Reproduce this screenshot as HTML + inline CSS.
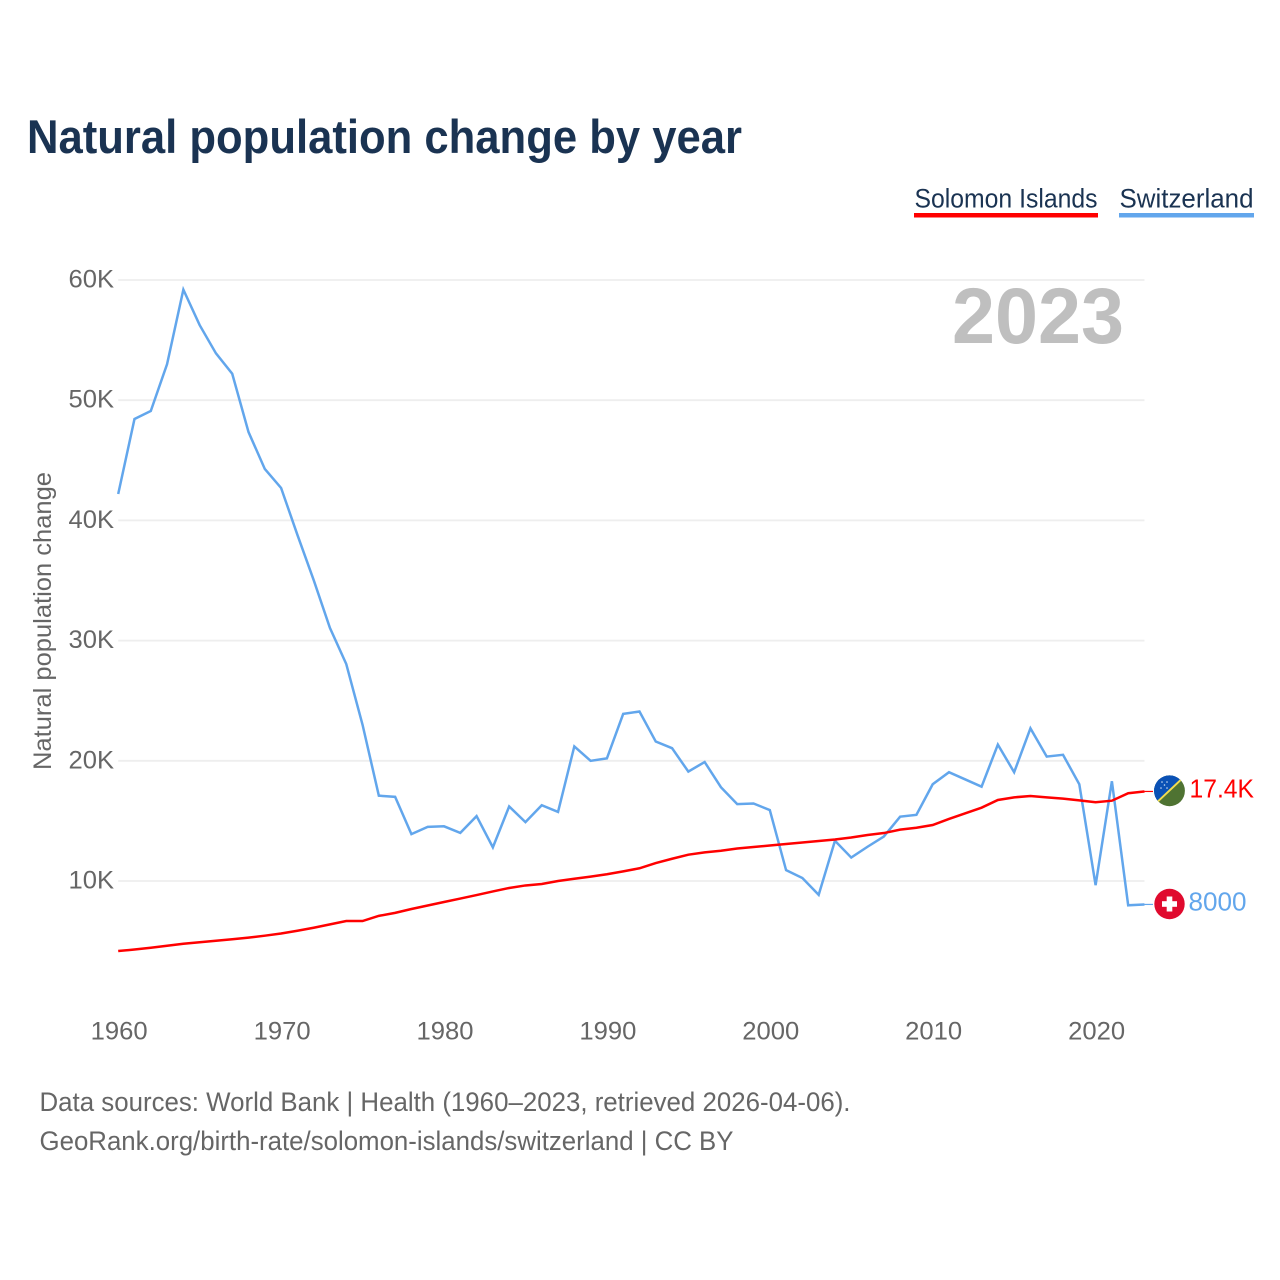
<!DOCTYPE html>
<html lang="en">
<head>
<meta charset="utf-8">
<title>Natural population change by year</title>
<style>
html,body{margin:0;padding:0;background:#fff;}
svg{display:block;font-family:"Liberation Sans",sans-serif;}
</style>
</head>
<body>
<svg id="chart" width="1280" height="1280" viewBox="0 0 1280 1280" xmlns="http://www.w3.org/2000/svg">
  <rect width="1280" height="1280" fill="#fff"/>
  <text x="27" y="153" font-size="47" font-weight="700" fill="#1a3352" textLength="715" lengthAdjust="spacingAndGlyphs">Natural population change by year</text>

  <g>
    <text x="914.5" y="207.5" font-size="27" fill="#1a3352" textLength="183" lengthAdjust="spacingAndGlyphs">Solomon Islands</text>
    <rect x="914" y="213" width="184" height="4.5" fill="#ff0000"/>
  </g>
  <g>
    <text x="1119.5" y="207.5" font-size="27" fill="#1a3352" textLength="134" lengthAdjust="spacingAndGlyphs">Switzerland</text>
    <rect x="1119" y="213" width="135" height="4.5" fill="#62a6ec"/>
  </g>

  <g id="grid"></g>
  <text x="952" y="343" font-size="79" font-weight="700" fill="#bfbfbf" textLength="172" lengthAdjust="spacingAndGlyphs">2023</text>
  <g id="yticks"></g>
  <g id="xticks"></g>
  <text transform="translate(51 770) rotate(-90)" x="0" y="0" font-size="25" fill="#666" textLength="298" lengthAdjust="spacingAndGlyphs">Natural population change</text>
  <g id="series"></g>

  <g>
    <clipPath id="clipSol"><circle cx="1169.5" cy="790.8" r="15.4"/></clipPath>
    <g clip-path="url(#clipSol)">
      <rect x="1154" y="775" width="32" height="32" fill="#4f7332"/>
      <polygon points="1150,777 1184,775 1152,806" fill="#0a51b5"/>
      <polygon points="1150,808 1186,775 1150,775" fill="#0a51b5"/>
      <line x1="1153" y1="806" x2="1186" y2="775" stroke="#f0dc50" stroke-width="2"/>
      <circle cx="1162" cy="782" r="0.8" fill="#cfe0f5"/>
      <circle cx="1167" cy="782" r="0.8" fill="#cfe0f5"/>
      <circle cx="1164.5" cy="785" r="0.8" fill="#cfe0f5"/>
      <circle cx="1161" cy="788" r="0.8" fill="#cfe0f5"/>
      <circle cx="1167" cy="788" r="0.8" fill="#cfe0f5"/>
    </g>
  </g>
  <g>
    <circle cx="1169.5" cy="904" r="15.2" fill="#e00a2e"/>
    <rect x="1166.7" y="896.5" width="5.6" height="15" fill="#fff"/>
    <rect x="1162" y="901.2" width="15" height="5.6" fill="#fff"/>
  </g>
  <text x="1189.5" y="797.5" font-size="26" fill="#ff0000" textLength="64.5" lengthAdjust="spacingAndGlyphs">17.4K</text>
  <text x="1188.5" y="910.5" font-size="26" fill="#62a6ec" textLength="58" lengthAdjust="spacingAndGlyphs">8000</text>

  <text x="39.5" y="1111" font-size="27" fill="#666" textLength="811" lengthAdjust="spacingAndGlyphs">Data sources: World Bank | Health (1960–2023, retrieved 2026-04-06).</text>
  <text x="39.5" y="1150" font-size="27" fill="#666" textLength="694" lengthAdjust="spacingAndGlyphs">GeoRank.org/birth-rate/solomon-islands/switzerland | CC BY</text>
</svg>
<script>
const startYear = 1960;
const yTickValues = [10000, 20000, 30000, 40000, 50000, 60000];
const yTickLabels = ["10K", "20K", "30K", "40K", "50K", "60K"];
const xTickValues = [1960, 1970, 1980, 1990, 2000, 2010, 2020];
const solomonValues = [4176,4300,4450,4610,4780,4900,5030,5150,5290,5450,5630,5860,6110,6390,6670,6670,7100,7350,7670,7960,8250,8540,8830,9130,9420,9630,9750,10000,10190,10360,10560,10800,11060,11490,11850,12190,12380,12520,12700,12830,12950,13080,13200,13330,13450,13620,13830,13990,14270,14430,14660,15160,15630,16100,16740,16960,17070,16960,16850,16710,16550,16680,17300,17450];
const switzerlandValues = [42196,48436,49100,53000,59200,56250,53900,52200,47350,44280,42700,38800,35040,31050,28050,23000,17100,17000,13900,14500,14550,14000,15400,12800,16200,14900,16300,15750,21200,20000,20200,23900,24100,21600,21050,19100,19900,17800,16400,16450,15900,10900,10250,8850,13350,11950,12850,13700,15350,15500,18050,19050,18450,17850,21350,19050,22700,20350,20500,18050,9650,18300,7980,8050];

const NS = "http://www.w3.org/2000/svg";
const xScale = function (year) { return 118.2 + (year - 1960) * 16.29; };
const yScale = function (value) { return 881 - (value - 10000) * 0.01202; };
const gridGroup = document.getElementById("grid");
const yTickGroup = document.getElementById("yticks");
const xTickGroup = document.getElementById("xticks");
const seriesGroup = document.getElementById("series");

yTickValues.forEach(function (value, i) {
  const gridLine = document.createElementNS(NS, "line");
  gridLine.setAttribute("x1", xScale(1960));
  gridLine.setAttribute("x2", xScale(2023));
  gridLine.setAttribute("y1", yScale(value));
  gridLine.setAttribute("y2", yScale(value));
  gridLine.setAttribute("stroke", "#eeeeee");
  gridLine.setAttribute("stroke-width", "1.8");
  
  
  gridGroup.appendChild(gridLine);

  const tickLabel = document.createElementNS(NS, "text");
  tickLabel.setAttribute("x", 68.5);
  tickLabel.setAttribute("y", yScale(value) + 7.5);
  tickLabel.setAttribute("font-size", "25");
  tickLabel.setAttribute("fill", "#666");
  tickLabel.setAttribute("textLength", "45.5");
  tickLabel.setAttribute("lengthAdjust", "spacingAndGlyphs");
  tickLabel.textContent = yTickLabels[i];
  
  
  yTickGroup.appendChild(tickLabel);
});

xTickValues.forEach(function (year) {
  const tickLabel = document.createElementNS(NS, "text");
  tickLabel.setAttribute("x", xScale(year) - 27.5);
  tickLabel.setAttribute("y", 1039.5);
  tickLabel.setAttribute("font-size", "25");
  tickLabel.setAttribute("fill", "#666");
  tickLabel.setAttribute("textLength", "57");
  tickLabel.setAttribute("lengthAdjust", "spacingAndGlyphs");
  tickLabel.textContent = String(year);
  
  
  xTickGroup.appendChild(tickLabel);
});

function toPoints(values) {
  return values.map(function (value, i) {
    return xScale(startYear + i).toFixed(2) + "," + yScale(value).toFixed(2);
  }).join(" ");
}

const switzerlandLine = document.createElementNS(NS, "polyline");
switzerlandLine.setAttribute("points", toPoints(switzerlandValues));
switzerlandLine.setAttribute("fill", "none");
switzerlandLine.setAttribute("stroke", "#62a6ec");
switzerlandLine.setAttribute("stroke-width", "2.5");


seriesGroup.appendChild(switzerlandLine);

const solomonLine = document.createElementNS(NS, "polyline");
solomonLine.setAttribute("points", toPoints(solomonValues));
solomonLine.setAttribute("fill", "none");
solomonLine.setAttribute("stroke", "#ff0000");
solomonLine.setAttribute("stroke-width", "2.5");


seriesGroup.appendChild(solomonLine);

const solomonLeader = document.createElementNS(NS, "line");
solomonLeader.setAttribute("x1", xScale(2023));
solomonLeader.setAttribute("x2", 1153);
solomonLeader.setAttribute("y1", yScale(solomonValues[solomonValues.length - 1]));
solomonLeader.setAttribute("y2", yScale(solomonValues[solomonValues.length - 1]));
solomonLeader.setAttribute("stroke", "#ff0000");
solomonLeader.setAttribute("stroke-width", "1.2");


seriesGroup.appendChild(solomonLeader);

const switzerlandLeader = document.createElementNS(NS, "line");
switzerlandLeader.setAttribute("x1", xScale(2023));
switzerlandLeader.setAttribute("x2", 1153);
switzerlandLeader.setAttribute("y1", yScale(switzerlandValues[switzerlandValues.length - 1]));
switzerlandLeader.setAttribute("y2", yScale(switzerlandValues[switzerlandValues.length - 1]));
switzerlandLeader.setAttribute("stroke", "#62a6ec");
switzerlandLeader.setAttribute("stroke-width", "1.2");


seriesGroup.appendChild(switzerlandLeader);
</script>
</body>
</html>
